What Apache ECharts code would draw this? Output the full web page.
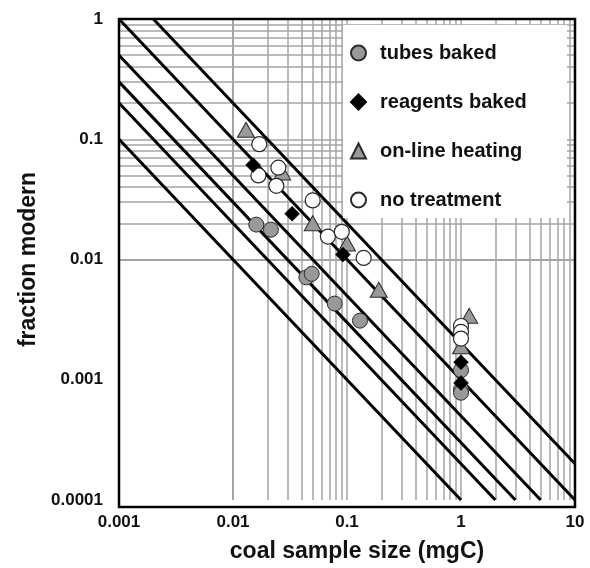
<!DOCTYPE html>
<html>
<head>
<meta charset="utf-8">
<script src="https://cdn.jsdelivr.net/npm/echarts@6/dist/echarts.min.js"></script>
<style>
  html, body { margin: 0; background: #fff; }
  #chart { width: 590px; height: 568px; }
</style>
</head>
<body>
<div id="chart"></div>
<script>
// 数据点 [coal sample size (mgC), fraction modern]
const tubesBaked = [
  [0.016, 0.0195], [0.0215, 0.0177], [0.044, 0.0071], [0.049, 0.0076],
  [0.078, 0.0043], [0.13, 0.0031], [1.0, 0.0012], [1.0, 0.00083], [1.0, 0.00078]
];
const reagentsBaked = [
  [0.015, 0.061], [0.033, 0.024], [0.092, 0.011], [1.0, 0.0014], [1.0, 0.00094]
];
const onlineHeating = [
  [0.013, 0.12], [0.027, 0.053], [0.05, 0.020], [0.1, 0.0136],
  [0.19, 0.0056], [1.18, 0.0034], [1.0, 0.0019]
];
const noTreatment = [
  [0.017, 0.091], [0.0167, 0.05], [0.025, 0.058], [0.024, 0.041], [0.05, 0.031],
  [0.068, 0.0155], [0.09, 0.017], [0.14, 0.0103], [1.0, 0.0028], [1.0, 0.0025], [1.0, 0.0022]
];
// 恒定现代碳质量 (mgC) 的斜线
const modernMass = [0.0001, 0.0002, 0.0003, 0.0005, 0.001, 0.002];

const xRange = [0.001, 10];
const yRange = [0.0001, 1];

const FONT = "'Liberation Sans', Arial, sans-serif";
const GRID = {left: 119, top: 19, width: 456, height: 488};

// 对数网格线 1..9 x 10^k
const logGridValues = (min, max) => {
  const out = [];
  for (let p = Math.round(Math.log10(min)); p < Math.round(Math.log10(max)); p++) {
    for (let m = 1; m <= 9; m++) {
      out.push(Number((m * Math.pow(10, p)).toPrecision(3)));
    }
  }
  out.push(max);
  return out;
};

// 斜线端点，裁剪到坐标范围
const massLine = (c) => {
  const x0 = Math.max(xRange[0], c / yRange[1]);
  const x1 = Math.min(xRange[1], c / yRange[0]);
  return [[x0, c / x0], [x1, c / x1]];
};

const fmt = (v) => String(Number(v.toPrecision(6)));

const gridLine = {color: '#a4a4a4', width: 1.5, type: 'solid'};

const series = [
  {
    name: 'grid',
    type: 'scatter',
    data: [],
    z: 1,
    silent: true,
    markLine: {
      z: 1,
      silent: true,
      symbol: ['none', 'none'],
      label: {show: false},
      lineStyle: gridLine,
      emphasis: {disabled: true},
      animation: false,
      data: [
        ...logGridValues(xRange[0], xRange[1]).map(v => ({xAxis: v})),
        ...logGridValues(yRange[0], yRange[1]).map(v => ({yAxis: v}))
      ]
    }
  },
  ...modernMass.map(c => ({
    name: 'm' + c,
    type: 'line',
    data: massLine(c),
    showSymbol: false,
    symbol: 'none',
    silent: true,
    z: 2,
    lineStyle: {color: '#000', width: 3}
  })),
  {
    name: 'tubes baked',
    type: 'scatter',
    data: tubesBaked,
    symbol: 'circle',
    symbolSize: 15,
    z: 3,
    itemStyle: {color: '#999999', borderColor: '#2a2a2a', borderWidth: 1, opacity: 1}
  },
  {
    name: 'on-line heating',
    type: 'scatter',
    data: onlineHeating,
    symbol: 'triangle',
    symbolSize: [17, 15],
    z: 3,
    itemStyle: {color: '#999999', borderColor: '#2a2a2a', borderWidth: 1, opacity: 1}
  },
  {
    name: 'no treatment',
    type: 'scatter',
    data: noTreatment,
    symbol: 'circle',
    symbolSize: 15,
    z: 3,
    itemStyle: {color: '#ffffff', borderColor: '#2a2a2a', borderWidth: 1.2, opacity: 1}
  },
  {
    name: 'reagents baked',
    type: 'scatter',
    data: reagentsBaked,
    symbol: 'diamond',
    symbolSize: 15,
    z: 3,
    itemStyle: {color: '#000000', borderColor: '#000', borderWidth: 0.5, opacity: 1}
  }
];

const option = {
  animation: false,
  backgroundColor: '#fff',
  grid: GRID,
  legend: {
    orient: 'vertical',
    left: 345,
    top: 38,
    z: 10,
    itemWidth: 15,
    itemHeight: 15,
    itemGap: 29,
    selectedMode: false,
    data: ['tubes baked', 'reagents baked', 'on-line heating', 'no treatment'],
    textStyle: {
      fontFamily: FONT,
      fontSize: 20,
      fontWeight: 'bold',
      color: '#111',
      lineHeight: 20,
      padding: [0, 0, 0, 9]
    }
  },
  graphic: [
    {
      type: 'rect',
      z: 8,
      silent: true,
      shape: {x: 343, y: 25, width: 224, height: 193},
      style: {fill: '#fff'}
    },
    {
      type: 'rect',
      z: 100,
      silent: true,
      shape: {x: GRID.left, y: GRID.top, width: GRID.width, height: GRID.height},
      style: {fill: null, stroke: '#000', lineWidth: 2.5}
    }
  ],
  xAxis: {
    type: 'log',
    logBase: 10,
    min: xRange[0],
    max: xRange[1],
    name: 'coal sample size (mgC)',
    nameLocation: 'middle',
    nameGap: 40,
    nameTextStyle: {fontFamily: FONT, fontSize: 23, fontWeight: 'bold', color: '#111', padding: [0, 0, 0, 20]},
    axisLine: {show: false},
    axisTick: {show: false},
    splitLine: {show: false},
    axisLabel: {fontFamily: FONT, fontSize: 17, fontWeight: 'bold', color: '#111', margin: 14, formatter: fmt}
  },
  yAxis: {
    type: 'log',
    logBase: 10,
    min: yRange[0],
    max: yRange[1],
    name: 'fraction modern',
    nameLocation: 'middle',
    nameGap: 58,
    nameTextStyle: {fontFamily: FONT, fontSize: 23, fontWeight: 'bold', color: '#111'},
    axisLine: {show: false},
    axisTick: {show: false},
    splitLine: {show: false},
    axisLabel: {fontFamily: FONT, fontSize: 17, fontWeight: 'bold', color: '#111', margin: 16, formatter: fmt}
  },
  series: series
};

const myChart = echarts.init(document.getElementById('chart'));
myChart.setOption(option);
</script>
</body>
</html>
